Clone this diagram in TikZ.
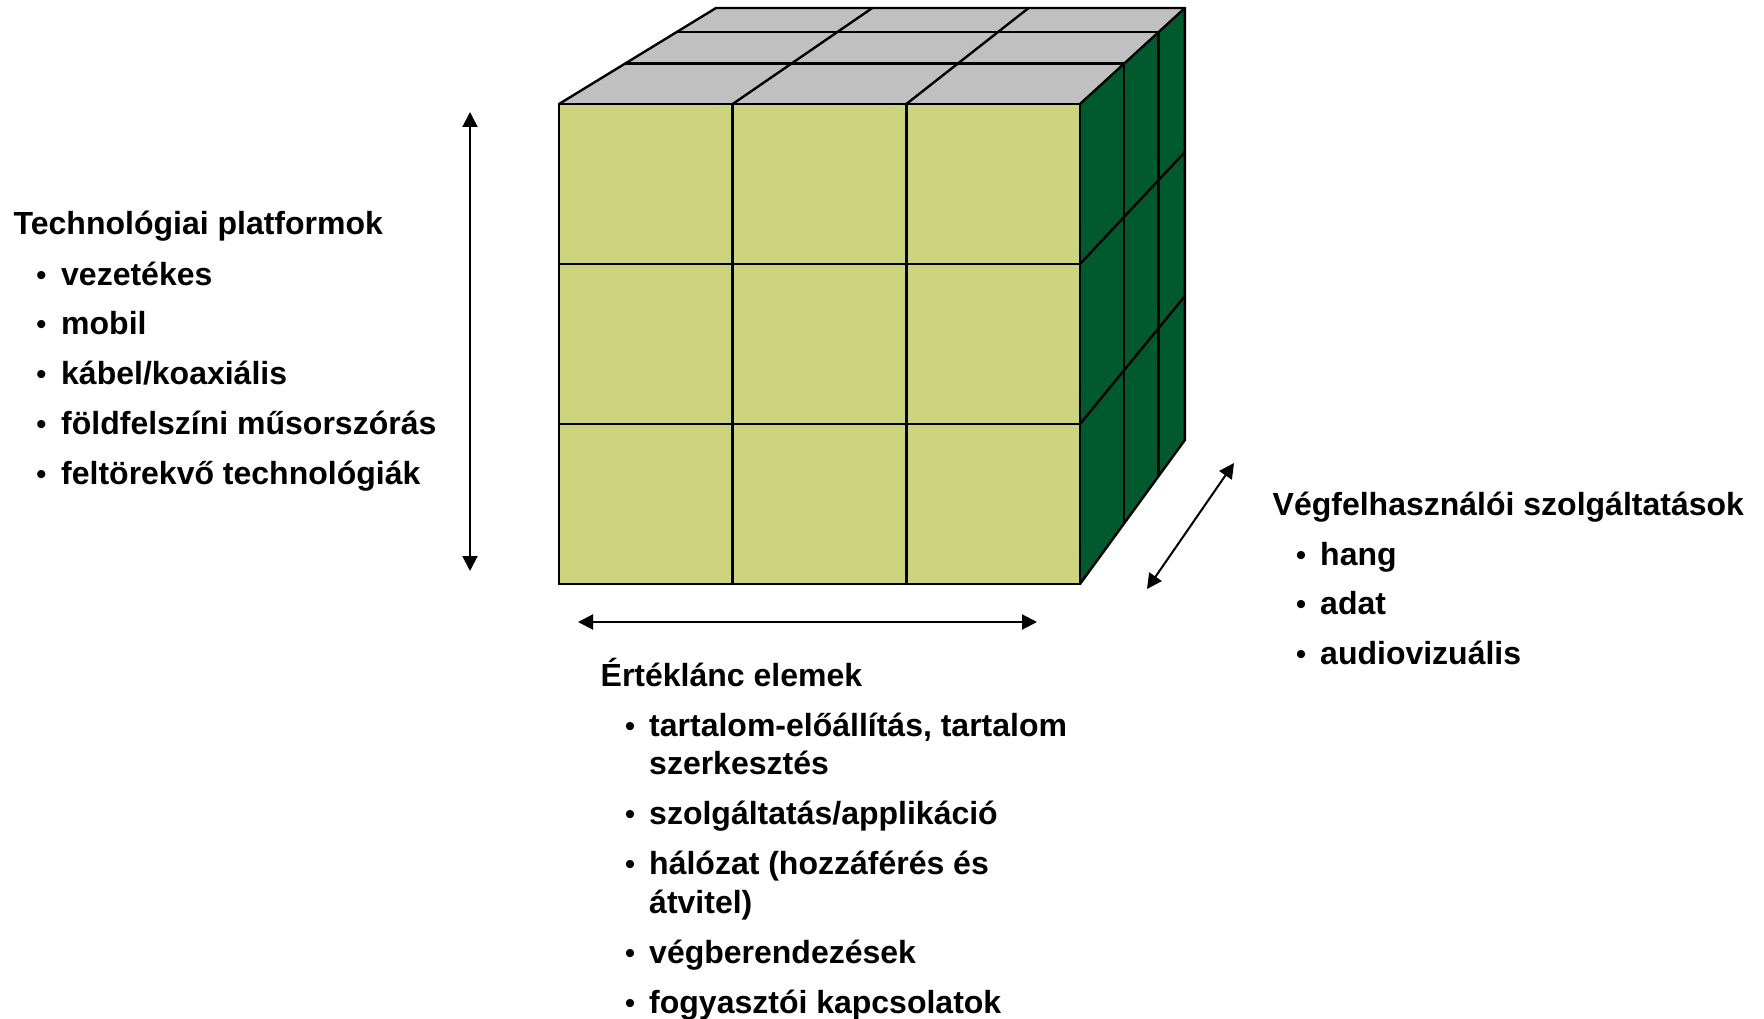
\documentclass[tikz,border=0pt]{standalone}
\usepackage{fontspec}
\setmainfont{Liberation Sans}
\usetikzlibrary{calc,arrows.meta}
\definecolor{frontc}{HTML}{CDD47E}
\definecolor{sidec}{HTML}{005A2E}
\definecolor{topc}{HTML}{C0C0C0}
\begin{document}
\begin{tikzpicture}[x=1pt,y=-1pt,
  edge/.style={draw=black,line width=2.4pt},
  dim/.style={line width=2pt,{Triangle[length=15pt,width=15pt]}-{Triangle[length=15pt,width=15pt]}},
  lbl/.style={inner sep=0pt,anchor=base west,font=\fontsize{32}{38}\selectfont\bfseries},
  bul/.style={inner sep=0pt,anchor=base,font=\fontsize{30}{36}\selectfont\mdseries}]
\useasboundingbox (0,0) rectangle (1764,1019);
% cube geometry
\coordinate (V) at (2129,-856);
\foreach \i in {0,...,3}{\foreach \j in {0,...,3}{
  \coordinate (D0-\i-\j) at ({559+\i*521/3},{104+\j*160});}}
\foreach \d/\s in {1/0.958,2/0.925,3/0.9}{\foreach \i in {0,...,3}{\foreach \j in {0,...,3}{
  \coordinate (D\d-\i-\j) at ($(V)!\s!(D0-\i-\j)$);}}}
% faces
\fill[topc] (D0-0-0) -- (D0-3-0) -- (D3-3-0) -- (D3-0-0) -- cycle;
\fill[sidec] (D0-3-0) -- (D3-3-0) -- (D3-3-3) -- (D0-3-3) -- cycle;
\fill[frontc] (D0-0-0) rectangle (D0-3-3);
% grid lines
\foreach \d in {1,2}{\draw[edge] (D\d-0-0) -- (D\d-3-0);}
\foreach \i in {1,2}{\draw[edge] (D0-\i-0) -- (D3-\i-0);}
\foreach \d in {1,2}{\draw[edge] (D\d-3-0) -- (D\d-3-3);}
\foreach \j in {1,2}{\draw[edge] (D0-3-\j) -- (D3-3-\j);}
\foreach \i in {1,2}{\draw[edge] (D0-\i-0) -- (D0-\i-3);}
\foreach \j in {1,2}{\draw[edge] (D0-0-\j) -- (D0-3-\j);}
% outlines
\draw[edge] (D0-0-0) rectangle (D0-3-3);
\draw[edge] (D0-0-0) -- (D3-0-0) -- (D3-3-0) -- (D3-3-3) -- (D0-3-3);
\draw[edge] (D0-3-0) -- (D3-3-0);
% arrows
\coordinate (vt) at (470,112); \coordinate (vb) at (470,571);
\coordinate (hl) at (578,622); \coordinate (hr) at (1037,622);
\coordinate (dl) at (1147,589); \coordinate (du) at (1234,463);
\draw[dim] (vt) -- (vb);
\draw[dim] (hl) -- (hr);
\draw[dim] (dl) -- (du);
% left list
\node[lbl] (lt) at (13.5,235) {Technológiai platformok};
\node[bul] (lb1) at (41.5,285.2) {•}; \node[lbl] (li1) at (61,285.2) {vezetékes};
\node[bul] (lb2) at (41.5,334.7) {•}; \node[lbl] (li2) at (61,334.7) {mobil};
\node[bul] (lb3) at (41.5,384.2) {•}; \node[lbl] (li3) at (61,384.2) {kábel/koaxiális};
\node[bul] (lb4) at (41.5,434.2) {•}; \node[lbl] (li4) at (61,434.2) {földfelszíni műsorszórás};
\node[bul] (lb5) at (41.5,484.2) {•}; \node[lbl] (li5) at (61,484.2) {feltörekvő technológiák};
% right list
\node[lbl] (rt) at (1272.5,515.5) {Végfelhasználói szolgáltatások};
\node[bul] (rb1) at (1301,565.2) {•}; \node[lbl] (ri1) at (1320,565.2) {hang};
\node[bul] (rb2) at (1301,614.7) {•}; \node[lbl] (ri2) at (1320,614.7) {adat};
\node[bul] (rb3) at (1301,664.2) {•}; \node[lbl] (ri3) at (1320,664.2) {audiovizuális};
% bottom list
\node[lbl] (bt) at (600.5,686.5) {Értéklánc elemek};
\node[bul] (bb1) at (630,736.2) {•}; \node[lbl] (bi1) at (649,736.2) {tartalom-előállítás, tartalom};
\node[lbl] (bi1b) at (649,774.2) {szerkesztés};
\node[bul] (bb2) at (630,824.2) {•}; \node[lbl] (bi2) at (649,824.2) {szolgáltatás/applikáció};
\node[bul] (bb3) at (630,874.2) {•}; \node[lbl] (bi3) at (649,874.2) {hálózat (hozzáférés és};
\node[lbl] (bi3b) at (649,913.2) {átvitel)};
\node[bul] (bb4) at (630,963.2) {•}; \node[lbl] (bi4) at (649,963.2) {végberendezések};
\node[bul] (bb5) at (630,1013.2) {•}; \node[lbl] (bi5) at (649,1013.2) {fogyasztói kapcsolatok};
\end{tikzpicture}
\end{document}
